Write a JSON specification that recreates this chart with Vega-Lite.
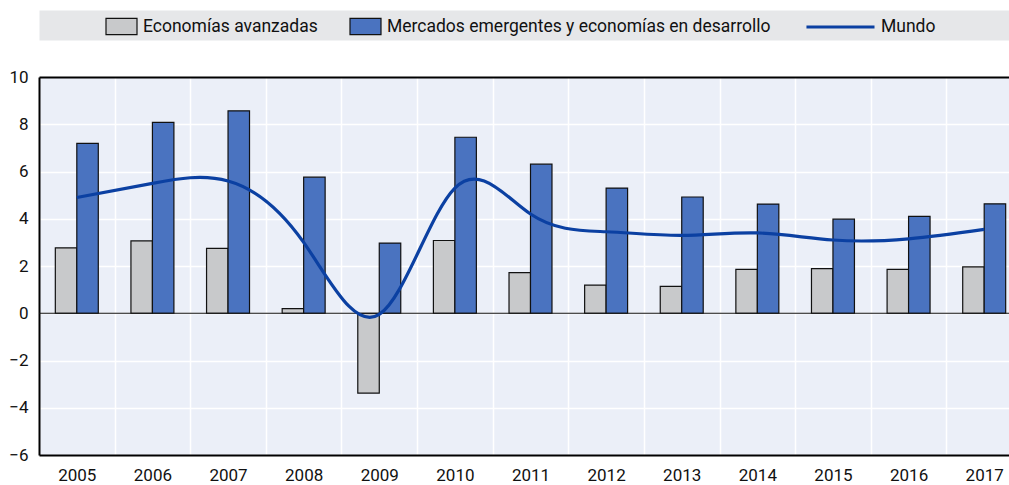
{
  "$schema": "https://vega.github.io/schema/vega-lite/v6.json",
  "width": 970,
  "height": 378,
  "autosize": {"type": "none"},
  "padding": {"left": 39, "top": 77, "right": 0, "bottom": 30},
  "background": "white",
  "config": {
    "view": {"fill": "#ebeff8", "stroke": null},
    "font": "Roboto"
  },
  "datasets": {
    "bars": [
      {"year": "2005", "series": "Economías avanzadas", "value": 2.77},
      {"year": "2006", "series": "Economías avanzadas", "value": 3.06},
      {"year": "2007", "series": "Economías avanzadas", "value": 2.75},
      {"year": "2008", "series": "Economías avanzadas", "value": 0.2},
      {"year": "2009", "series": "Economías avanzadas", "value": -3.38},
      {"year": "2010", "series": "Economías avanzadas", "value": 3.08},
      {"year": "2011", "series": "Economías avanzadas", "value": 1.72},
      {"year": "2012", "series": "Economías avanzadas", "value": 1.19},
      {"year": "2013", "series": "Economías avanzadas", "value": 1.14},
      {"year": "2014", "series": "Economías avanzadas", "value": 1.86},
      {"year": "2015", "series": "Economías avanzadas", "value": 1.89},
      {"year": "2016", "series": "Economías avanzadas", "value": 1.86},
      {"year": "2017", "series": "Economías avanzadas", "value": 1.96},
      {"year": "2005", "series": "Mercados emergentes y economías en desarrollo", "value": 7.19},
      {"year": "2006", "series": "Mercados emergentes y economías en desarrollo", "value": 8.08},
      {"year": "2007", "series": "Mercados emergentes y economías en desarrollo", "value": 8.57},
      {"year": "2008", "series": "Mercados emergentes y economías en desarrollo", "value": 5.76},
      {"year": "2009", "series": "Mercados emergentes y economías en desarrollo", "value": 2.97},
      {"year": "2010", "series": "Mercados emergentes y economías en desarrollo", "value": 7.45},
      {"year": "2011", "series": "Mercados emergentes y economías en desarrollo", "value": 6.31},
      {"year": "2012", "series": "Mercados emergentes y economías en desarrollo", "value": 5.3},
      {"year": "2013", "series": "Mercados emergentes y economías en desarrollo", "value": 4.92},
      {"year": "2014", "series": "Mercados emergentes y economías en desarrollo", "value": 4.62},
      {"year": "2015", "series": "Mercados emergentes y economías en desarrollo", "value": 3.98},
      {"year": "2016", "series": "Mercados emergentes y economías en desarrollo", "value": 4.1},
      {"year": "2017", "series": "Mercados emergentes y economías en desarrollo", "value": 4.63}
    ],
    "world": [
      {"year": "2005", "series": "Mundo", "value": 4.9},
      {"year": "2006", "series": "Mundo", "value": 5.5},
      {"year": "2007", "series": "Mundo", "value": 5.6},
      {"year": "2008", "series": "Mundo", "value": 3.0},
      {"year": "2009", "series": "Mundo", "value": -0.05},
      {"year": "2010", "series": "Mundo", "value": 5.3},
      {"year": "2011", "series": "Mundo", "value": 4.2},
      {"year": "2012", "series": "Mundo", "value": 3.45},
      {"year": "2013", "series": "Mundo", "value": 3.3},
      {"year": "2014", "series": "Mundo", "value": 3.4},
      {"year": "2015", "series": "Mundo", "value": 3.1},
      {"year": "2016", "series": "Mundo", "value": 3.15},
      {"year": "2017", "series": "Mundo", "value": 3.55}
    ],
    "zero": [{"z": 0}]
  },
  "resolve": {"axis": {"x": "independent"}},
  "layer": [
    {
      "data": {"name": "bars"},
      "mark": {"type": "bar", "stroke": "#111", "strokeWidth": 1.2},
      "encoding": {
        "x": {
          "field": "year", "type": "ordinal",
          "scale": {"range": [0, 983], "paddingInner": 0, "paddingOuter": 0},
          "axis": {
            "orient": "bottom", "title": null, "labelAngle": 0,
            "domainColor": "#000", "domainWidth": 2, "ticks": false,
            "labelFont": "Roboto", "labelFontSize": 17, "labelColor": "#111",
            "labelPadding": 12,
            "grid": true, "gridColor": "#ffffff", "gridWidth": 1.5, "tickBand": "extent"
          }
        },
        "xOffset": {
          "field": "series", "type": "nominal",
          "sort": ["Economías avanzadas", "Mercados emergentes y economías en desarrollo"],
          "scale": {"paddingInner": 0, "paddingOuter": 0.76}
        },
        "y": {
          "field": "value", "type": "quantitative",
          "scale": {"domain": [-6, 10], "nice": false, "zero": false},
          "axis": {
            "title": null, "values": [-6, -4, -2, 0, 2, 4, 6, 8, 10],
            "domainColor": "#000", "domainWidth": 2, "ticks": false,
            "labelFont": "Roboto", "labelFontSize": 17, "labelColor": "#111",
            "labelPadding": 11,
            "grid": true,
            "gridColor": {"condition": {"test": "datum.value === 10", "value": "#000"}, "value": "#ffffff"},
            "gridWidth": {"condition": {"test": "datum.value === 10", "value": 2}, "value": 1.5}
          }
        },
        "color": {
          "field": "series", "type": "nominal",
          "scale": {
            "domain": ["Economías avanzadas", "Mercados emergentes y economías en desarrollo"],
            "range": ["#c8c9cb", "#4a73c0"]
          },
          "legend": {
            "orient": "none", "legendX": 66, "legendY": -67, "direction": "horizontal",
            "title": null, "padding": 0,
            "symbolType": "M-1,-0.52H1V0.52H-1Z", "symbolSize": 961,
            "symbolStrokeColor": "#111", "symbolStrokeWidth": 1.2,
            "labelFont": "Roboto", "labelFontSize": 17.5, "labelColor": "#111",
            "labelOffset": 5, "columnPadding": 29, "labelLimit": 0
          }
        }
      }
    },
    {
      "data": {"name": "zero"},
      "mark": {"type": "rule", "color": "#111", "strokeWidth": 1.2},
      "encoding": {"y": {"datum": 0, "type": "quantitative"}}
    },
    {
      "data": {"name": "world"},
      "mark": {"type": "line", "interpolate": "natural", "strokeWidth": 3.2},
      "encoding": {
        "x": {
          "field": "year", "type": "ordinal",
          "axis": {
            "orient": "top", "title": null, "offset": 52,
            "domainColor": "#e6e7e9", "domainWidth": 30, "domainCap": "butt",
            "ticks": false, "labels": false, "grid": false
          }
        },
        "y": {"field": "value", "type": "quantitative"},
        "stroke": {
          "field": "series", "type": "nominal",
          "scale": {"domain": ["Mundo"], "range": ["#0b40a2"]},
          "legend": {
            "orient": "none", "legendX": 803, "legendY": -67, "direction": "horizontal",
            "title": null, "padding": 0,
            "symbolType": "M-3.39,0H1", "symbolSize": 961, "symbolStrokeWidth": 3,
            "labelFont": "Roboto", "labelFontSize": 17.5, "labelColor": "#111",
            "labelOffset": 5, "labelLimit": 0
          }
        }
      }
    }
  ]
}
